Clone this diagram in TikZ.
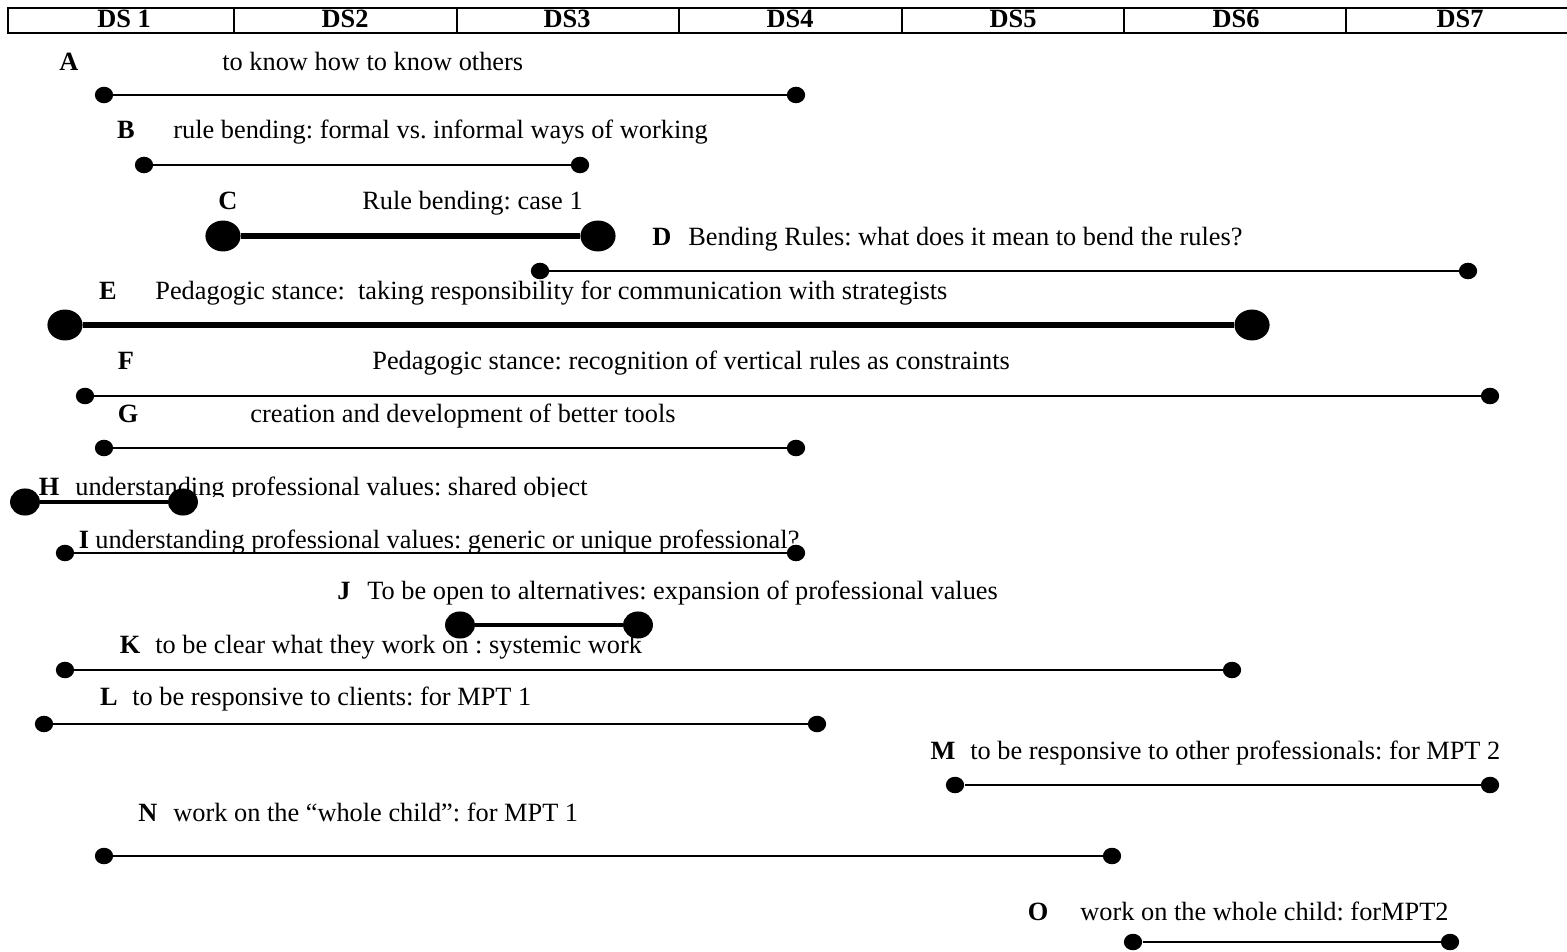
\documentclass[tikz,border=0pt]{standalone}
\usepackage{fontspec}
\setmainfont{Liberation Serif}
\usetikzlibrary{shapes.geometric}
\frenchspacing

\begin{document}
\begin{tikzpicture}[x=0.02cm, y=-0.02cm, font=\fontsize{15}{18}\selectfont,
  Punkt/.style={ellipse, fill=black, inner sep=0pt, minimum width=10.4pt, minimum height=9.4pt},
  Gross/.style={ellipse, fill=black, inner sep=0pt, minimum width=20pt, minimum height=17.6pt},
  Mittel/.style={ellipse, fill=black, inner sep=0pt, minimum width=17pt, minimum height=15.4pt},
  Duenn/.style={line width=1.1pt},
  Dick/.style={line width=3.8pt},
  Halb/.style={line width=2.8pt},
  Buchst/.style={anchor=base, inner sep=0pt, font=\fontsize{15}{18}\selectfont\bfseries},
  Thema/.style={anchor=base west, inner sep=0pt}]
\useasboundingbox (0,0) rectangle (1567,952);
% Kopfzeile
\draw[line width=0.8pt] (8,8) rectangle (1590,33);
\draw[line width=0.8pt] (234,8) -- (234,33) (457,8) -- (457,33) (679,8) -- (679,33)
  (902,8) -- (902,33) (1124,8) -- (1124,33) (1346,8) -- (1346,33);
\node[Buchst] (ds1) at (124,28) {DS 1};
\node[Buchst] (ds2) at (345,28) {DS2};
\node[Buchst] (ds3) at (567,28) {DS3};
\node[Buchst] (ds4) at (790,28) {DS4};
\node[Buchst] (ds5) at (1013,28) {DS5};
\node[Buchst] (ds6) at (1236,28) {DS6};
\node[Buchst] (ds7) at (1460,28) {DS7};

% Beschriftungen
\node[Buchst] (lA) at (69,71) {A};
\node[Thema] (tA) at (222,71) {to know how to know others};
\node[Buchst] (lB) at (126,139) {B};
\node[Thema] (tB) at (173,139) {rule bending: formal vs. informal ways of working};
\node[Buchst] (lC) at (228,210) {C};
\node[Thema] (tC) at (362,210) {Rule bending: case 1};
\node[Buchst] (lD) at (662,246) {D};
\node[Thema] (tD) at (688,246) {Bending Rules: what does it mean to bend the rules?};
\node[Buchst] (lE) at (108,300) {E};
\node[Thema] (tE) at (155,300) {Pedagogic stance:\ \ taking responsibility for communication with strategists};
\node[Buchst] (lF) at (126,370) {F};
\node[Thema] (tF) at (372,370) {Pedagogic stance: recognition of vertical rules as constraints};
\node[Buchst] (lG) at (128,422) {G};
\node[Thema] (tG) at (250,422) {creation and development of better tools};
\begin{scope}
\clip (0,470) rectangle (700,496);
\node[Buchst] (lH) at (49,495) {H};
\node[Thema] (tH) at (75,495) {understanding professional values: shared object};
\end{scope}
\node[Buchst] (lI) at (84,548) {I};
\node[Thema] (tI) at (95,548) {understanding professional values: generic or unique professional?};
\node[Buchst] (lJ) at (344,599) {J};
\node[Thema] (tJ) at (367,599) {To be open to alternatives: expansion of professional values};
\node[Buchst] (lK) at (130,653) {K};
\node[Thema] (tK) at (155,653) {to be clear what they work on : systemic work};
\node[Buchst] (lL) at (109,705) {L};
\node[Thema] (tL) at (132,705) {to be responsive to clients: for MPT 1};
\node[Buchst] (lM) at (943,759) {M};
\node[Thema] (tM) at (970,759) {to be responsive to other professionals: for MPT 2};
\node[Buchst] (lN) at (148,821) {N};
\node[Thema] (tN) at (173,821) {work on the “whole child”: for MPT 1};
\node[Buchst] (lO) at (1038,920) {O};
\node[Thema] (tO) at (1080,920) {work on the whole child: forMPT2};

% Zeitlinien
\node[Punkt] (a1) at (104,95) {};
\node[Punkt] (a2) at (796,95) {};
\draw[Duenn] (a1) -- (a2);
\node[Punkt] (b1) at (144,165) {};
\node[Punkt] (b2) at (580,165) {};
\draw[Duenn] (b1) -- (b2);
\node[Gross] (c1) at (223,236) {};
\node[Gross] (c2) at (598,236) {};
\draw[Dick] (c1) -- (c2);
\node[Punkt] (d1) at (540,271) {};
\node[Punkt] (d2) at (1468,271) {};
\draw[Duenn] (d1) -- (d2);
\node[Gross] (e1) at (65,325) {};
\node[Gross] (e2) at (1252,325) {};
\draw[Dick] (e1) -- (e2);
\node[Punkt] (f1) at (85,396) {};
\node[Punkt] (f2) at (1490,396) {};
\draw[Duenn] (f1) -- (f2);
\node[Punkt] (g1) at (104,448) {};
\node[Punkt] (g2) at (796,448) {};
\draw[Duenn] (g1) -- (g2);
\node[Mittel] (h1) at (25,502) {};
\node[Mittel] (h2) at (183,502) {};
\draw[Halb] (h1) -- (h2);
\node[Punkt] (i1) at (65,553) {};
\node[Punkt] (i2) at (796,553) {};
\draw[Duenn] (i1) -- (i2);
\node[Mittel] (j1) at (460,625) {};
\node[Mittel] (j2) at (638,625) {};
\draw[Halb] (j1) -- (j2);
\node[Punkt] (k1) at (65,670) {};
\node[Punkt] (k2) at (1232,670) {};
\draw[Duenn] (k1) -- (k2);
\node[Punkt] (l1) at (44,724) {};
\node[Punkt] (l2) at (817,724) {};
\draw[Duenn] (l1) -- (l2);
\node[Punkt] (m1) at (955,785) {};
\node[Punkt] (m2) at (1490,785) {};
\draw[Duenn] (m1) -- (m2);
\node[Punkt] (n1) at (104,856) {};
\node[Punkt] (n2) at (1112,856) {};
\draw[Duenn] (n1) -- (n2);
\node[Punkt] (o1) at (1133,942) {};
\node[Punkt] (o2) at (1450,942) {};
\draw[Duenn] (o1) -- (o2);
\end{tikzpicture}
\end{document}
